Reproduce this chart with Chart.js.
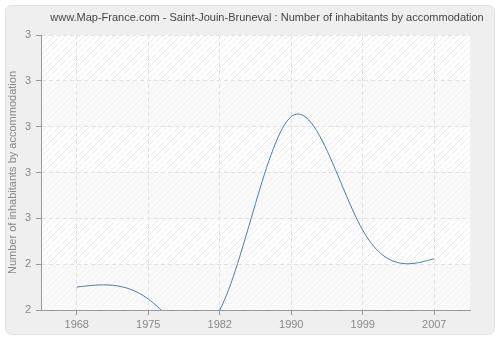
<!DOCTYPE html>
<html>
<head>
<meta charset="utf-8">
<script src="https://cdn.jsdelivr.net/npm/chart.js@4/dist/chart.umd.min.js"></script>
<style>
  html, body { margin: 0; padding: 0; background: #ffffff; }
  #wrap { width: 500px; height: 340px; position: relative; }
</style>
</head>
<body>
<div id="wrap"><canvas id="chart" width="500" height="340"></canvas></div>
<script>
// data
const years = ['1968', '1975', '1982', '1990', '1999', '2007'];
const inhabitants = [2.425, 2.412, 2.4, 2.611, 2.487, 2.456];
const yMin = 2.4;
const yMax = 2.7;
const yStep = 0.05;

const chartTitle = 'www.Map-France.com - Saint-Jouin-Bruneval : Number of inhabitants by accommodation';
const yTitle = 'Number of inhabitants by accommodation';

const FONT = '"Liberation Sans", Arial, sans-serif';

// hatch pattern for the plot background
function makeHatch(bg, line) {
  const c = document.createElement('canvas');
  c.width = 6; c.height = 6;
  const g = c.getContext('2d');
  g.fillStyle = bg;
  g.fillRect(0, 0, 6, 6);
  g.strokeStyle = line;
  g.lineWidth = 1;
  g.beginPath();
  g.moveTo(0, 6); g.lineTo(6, 0);
  g.moveTo(-1, 1); g.lineTo(1, -1);
  g.moveTo(5, 7); g.lineTo(7, 5);
  g.stroke();
  return g.createPattern(c, 'repeat');
}

const backdrop = {
  id: 'backdrop',
  beforeDraw(chart) {
    const ctx = chart.ctx;
    const area = chart.chartArea;
    ctx.save();
    // outer panel
    ctx.beginPath();
    ctx.roundRect(5.5, 5.5, 489, 329, 6);
    ctx.fillStyle = '#efefef';
    ctx.fill();
    ctx.strokeStyle = '#e2e2e2';
    ctx.lineWidth = 1;
    ctx.stroke();

    // alternating bands
    const strong = makeHatch('#ffffff', '#ececec');
    const faint = makeHatch('#fafafa', '#f3f3f3');
    const y = chart.scales.y;
    const ticks = y.ticks;
    for (let i = 0; i < ticks.length - 1; i++) {
      const y0 = y.getPixelForValue(ticks[i].value);
      const y1 = y.getPixelForValue(ticks[i + 1].value);
      const fromTop = ticks.length - 2 - i;
      ctx.fillStyle = fromTop % 2 === 0 ? strong : faint;
      ctx.fillRect(area.left, y1, area.right - area.left, y0 - y1);
    }
    ctx.restore();
  },
  afterDraw(chart) {
    const ctx = chart.ctx;
    ctx.save();
    ctx.font = '11px ' + FONT;
    ctx.fillStyle = '#444444';
    ctx.textAlign = 'center';
    ctx.textBaseline = 'middle';
    ctx.fillText(chartTitle, 267, 18);
    ctx.restore();
  }
};

// natural cubic spline: set the bezier control points of the line's points
const naturalSpline = {
  id: 'naturalSpline',
  beforeDatasetsDraw(chart) {
    const meta = chart.getDatasetMeta(0);
    const line = meta.dataset;
    if (line.updateControlPoints) line.updateControlPoints(chart.chartArea, 'x');
    const pts = meta.data;
    const n = pts.length;
    const xs = pts.map(p => p.x);
    const ys = pts.map(p => p.y);
    const h = [];
    for (let i = 0; i < n - 1; i++) h.push(xs[i + 1] - xs[i]);

    // solve for second derivatives (M0 = Mn-1 = 0)
    const M = new Array(n).fill(0);
    const a = [], b = [], c = [], r = [];
    for (let i = 1; i < n - 1; i++) {
      a.push(h[i - 1]);
      b.push(2 * (h[i - 1] + h[i]));
      c.push(h[i]);
      r.push(6 * ((ys[i + 1] - ys[i]) / h[i] - (ys[i] - ys[i - 1]) / h[i - 1]));
    }
    const m = b.length;
    for (let i = 1; i < m; i++) {
      const w = a[i] / b[i - 1];
      b[i] -= w * c[i - 1];
      r[i] -= w * r[i - 1];
    }
    for (let i = m - 1; i >= 0; i--) {
      const next = i < m - 1 ? M[i + 2] : 0;
      M[i + 1] = (r[i] - c[i] * next) / b[i];
    }

    const d = [];
    for (let i = 0; i < n - 1; i++) {
      d.push((ys[i + 1] - ys[i]) / h[i] - h[i] * (2 * M[i] + M[i + 1]) / 6);
    }
    d.push((ys[n - 1] - ys[n - 2]) / h[n - 2] + h[n - 2] * (M[n - 2] + 2 * M[n - 1]) / 6);

    pts.forEach((p, i) => {
      const hin = i > 0 ? h[i - 1] : 0;
      const hout = i < n - 1 ? h[i] : 0;
      p.cp1x = p.x - hin / 3;
      p.cp1y = p.y - d[i] * hin / 3;
      p.cp2x = p.x + hout / 3;
      p.cp2y = p.y + d[i] * hout / 3;
    });
    line._path = undefined;
  }
};

new Chart(document.getElementById('chart'), {
  type: 'line',
  data: {
    labels: years,
    datasets: [{
      data: inhabitants,
      borderColor: '#4f7bb0',
      borderWidth: 1,
      pointRadius: 0,
      tension: 0.4,
      fill: false,
      clip: 0
    }]
  },
  options: {
    responsive: false,
    animation: false,
    elements: { line: { capBezierPoints: false } },
    layout: { padding: { left: 5, right: 30, top: 35, bottom: 5 } },
    plugins: {
      legend: { display: false },
      tooltip: { enabled: false },
      title: { display: false }
    },
    scales: {
      x: {
        type: 'category',
        offset: true,
        grid: {
          offset: false,
          color: '#e2e2e2',
          tickColor: '#999999',
          tickLength: 5
        },
        border: { color: '#999999', dash: [4, 3] },
        ticks: {
          color: '#888888',
          font: { family: FONT, size: 11 },
          padding: 3,
          maxRotation: 0
        },
        afterFit(scale) { scale.height = 25; }
      },
      y: {
        min: yMin,
        max: yMax,
        grid: {
          color: '#e2e2e2',
          tickColor: '#999999',
          tickLength: 5
        },
        border: { color: '#999999', dash: [4, 3] },
        ticks: {
          stepSize: yStep,
          color: '#888888',
          font: { family: FONT, size: 11 },
          padding: 5,
          callback: v => Math.round(v + 1e-9)
        },
        title: {
          display: true,
          text: yTitle,
          color: '#888888',
          font: { family: FONT, size: 11 },
          padding: { top: 1, bottom: 0 }
        },
        afterFit(scale) { scale.width = 36; }
      }
    }
  },
  plugins: [backdrop, naturalSpline]
});
</script>
</body>
</html>
